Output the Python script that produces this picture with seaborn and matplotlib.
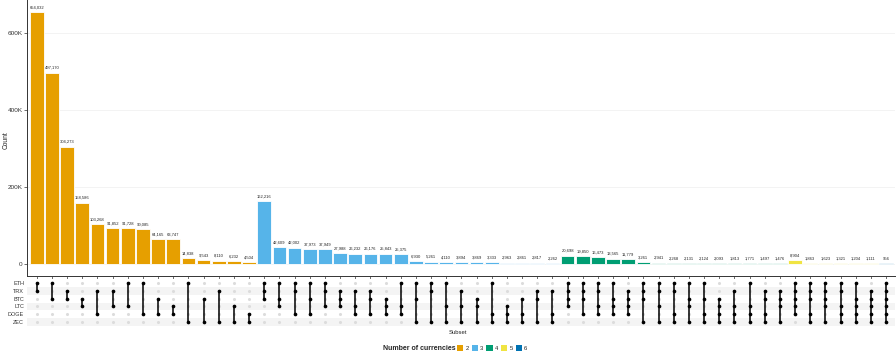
import pandas as pd
import matplotlib
matplotlib.use("Agg")
import matplotlib.pyplot as plt
import matplotlib.ticker as ticker
from matplotlib.patches import Patch
import seaborn as sns

# currencies (matrix rows, top to bottom)
currencies = ["ETH", "TRX", "BTC", "LTC", "DOGE", "ZEC"]

# subsets in plotted order (grouped by degree, sorted by count)
subsets = [
    "ETH&TRX", "ETH&BTC", "TRX&BTC", "BTC&LTC", "TRX&DOGE", "TRX&LTC", "ETH&LTC", "ETH&DOGE",
    "BTC&DOGE", "LTC&DOGE", "ETH&ZEC", "BTC&ZEC", "TRX&ZEC", "LTC&ZEC", "DOGE&ZEC",
    "ETH&TRX&BTC", "ETH&BTC&LTC", "ETH&TRX&DOGE", "ETH&BTC&DOGE", "ETH&TRX&LTC",
    "TRX&BTC&LTC", "TRX&LTC&DOGE", "TRX&BTC&DOGE", "BTC&LTC&DOGE", "ETH&LTC&DOGE",
    "ETH&BTC&ZEC", "ETH&TRX&ZEC", "ETH&LTC&ZEC", "TRX&LTC&ZEC", "BTC&LTC&ZEC",
    "ETH&DOGE&ZEC", "LTC&DOGE&ZEC", "BTC&DOGE&ZEC", "TRX&BTC&ZEC", "TRX&DOGE&ZEC",
    "ETH&TRX&BTC&LTC", "ETH&TRX&BTC&DOGE", "ETH&TRX&LTC&DOGE", "ETH&BTC&LTC&DOGE",
    "TRX&BTC&LTC&DOGE", "ETH&TRX&BTC&ZEC", "ETH&TRX&LTC&ZEC", "ETH&TRX&DOGE&ZEC",
    "ETH&BTC&LTC&ZEC", "ETH&BTC&DOGE&ZEC", "BTC&LTC&DOGE&ZEC", "TRX&LTC&DOGE&ZEC",
    "ETH&LTC&DOGE&ZEC", "TRX&BTC&DOGE&ZEC", "TRX&BTC&LTC&ZEC",
    "ETH&TRX&BTC&LTC&DOGE", "ETH&TRX&BTC&DOGE&ZEC", "ETH&TRX&BTC&LTC&ZEC",
    "ETH&TRX&LTC&DOGE&ZEC", "ETH&BTC&LTC&DOGE&ZEC", "TRX&BTC&LTC&DOGE&ZEC",
    "ETH&TRX&BTC&LTC&DOGE&ZEC",
]

counts = [
    654032, 497170, 304273, 158586, 103268, 91852, 91728, 90085,
    64165, 63747, 14838, 9543, 8110, 6232, 4504,
    162216, 42609, 42002, 37973, 37949,
    27988, 26232, 26176, 25843, 25375,
    6930, 5261, 4110, 3894, 3869,
    3333, 2963, 2861, 2817, 2262,
    20698, 19850, 16473, 13565,
    11779, 3261, 2941, 2268,
    2131, 2124, 2093, 1813,
    1771, 1497, 1476,
    8904, 1863, 1623,
    1321, 1204, 1111,
    956,
]

degree_colors = {"2": "#E69F00", "3": "#56B4E9", "4": "#009E73", "5": "#F0E442", "6": "#0072B2"}

df = pd.DataFrame({"subset": subsets, "count": counts})
df["degree"] = df["subset"].str.split("&").str.len().astype(str)

sns.set_theme(style="white")
plt.rcParams["font.family"] = ["Liberation Sans", "DejaVu Sans"]

fig = plt.figure(figsize=(8.96, 3.53), dpi=100)
xlim = (-0.64, 56.6)

# bar panel
ax = fig.add_axes([0.0301, 0.218, 0.969, 0.782])
sns.barplot(data=df, x="subset", y="count", hue="degree", order=subsets,
            palette=degree_colors, dodge=False, legend=False, width=0.9,
            edgecolor="white", linewidth=0.6, saturation=1, ax=ax)
for cont in ax.containers:
    labels = [f"{int(b.get_height()):,}" if b.get_height() == b.get_height() else "" for b in cont]
    ax.bar_label(cont, labels=labels, fontsize=3, padding=2, color="#222222")

ax.set_xlim(*xlim)
ax.set_ylim(-32000, 686000)
ax.set_yticks([0, 200000, 400000, 600000])
ax.yaxis.set_major_formatter(ticker.FuncFormatter(lambda v, p: "0" if v == 0 else f"{int(v / 1000)}K"))
ax.set_xticklabels([])
ax.set_xlabel("")
ax.set_ylabel("")
ax.tick_params(axis="y", labelsize=4.6, length=2, width=0.5, pad=1.2, left=True, colors="#333333")
ax.tick_params(axis="x", length=2, width=0.5, bottom=True, colors="#333333")
ax.yaxis.grid(True, color="#eeeeee", linewidth=0.5)
ax.set_axisbelow(True)
for s in ["top", "right"]:
    ax.spines[s].set_visible(False)
for s in ["left", "bottom"]:
    ax.spines[s].set_color("#333333")
    ax.spines[s].set_linewidth(0.7)

fig.text(6 / 896, 1 - 140 / 353, "Count", fontsize=4.8, rotation=90,
         ha="center", va="center", color="#222222")

# matrix panel
mx = fig.add_axes([0.0301, 0.0765, 0.969, 0.133])
for r in [1, 3, 5]:
    mx.axhspan(r - 0.5, r + 0.5, color="#f4f4f4", zorder=0, lw=0)

grid_x, grid_y = [], []
for i in range(len(subsets)):
    for r in range(len(currencies)):
        grid_x.append(i)
        grid_y.append(r)
sns.scatterplot(x=grid_x, y=grid_y, color="#dcdcdc", s=5, linewidth=0, ax=mx, zorder=1)

act_x, act_y = [], []
for i, sub in enumerate(subsets):
    rows = [currencies.index(c) for c in sub.split("&")]
    mx.plot([i, i], [min(rows), max(rows)], color="black", linewidth=1.1, zorder=2)
    act_x += [i] * len(rows)
    act_y += rows
sns.scatterplot(x=act_x, y=act_y, color="black", s=7, linewidth=0, ax=mx, zorder=3)

mx.set_xlim(*xlim)
mx.set_ylim(5.5, -0.5)
mx.set_yticks(range(len(currencies)))
mx.set_yticklabels(currencies, fontsize=4, color="#333333")
mx.set_xticks([])
mx.tick_params(axis="y", length=0, pad=2)
for s in mx.spines.values():
    s.set_visible(False)

fig.text(458 / 896, 1 - 332 / 353, "Subset", fontsize=4.2, ha="center", va="center", color="#222222")

# legend
fig.text(456 / 896, 1 - 348 / 353, "Number of currencies", fontsize=5, fontweight="bold",
         ha="right", va="center")
handles = [Patch(facecolor=c, edgecolor="none", label=k) for k, c in degree_colors.items()]
fig.legend(handles=handles, loc="center left", bbox_to_anchor=(457 / 896, 1 - 348 / 353),
           ncol=5, frameon=False, fontsize=4.2, handlelength=1.1, handleheight=1.1,
           handletextpad=0.35, columnspacing=0.5, borderpad=0, borderaxespad=0)

fig.savefig("out.png", dpi=100)
